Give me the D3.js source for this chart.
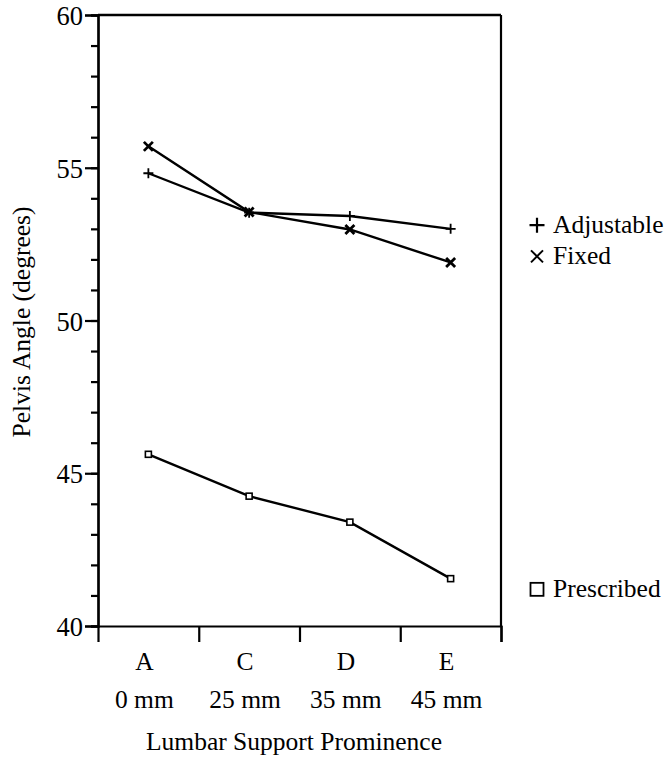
<!DOCTYPE html>
<html>
<head>
<meta charset="utf-8">
<script src="https://cdn.jsdelivr.net/npm/d3@7"></script>
<style>
  body { margin: 0; background: #fff; }
</style>
</head>
<body>
<div class="chart"></div>
<script>
const categories = ["A", "C", "D", "E"]
const distances = ["0 mm", "25 mm", "35 mm", "45 mm"]
const adjustable = [54.82, 53.53, 53.42, 53.0]
const fixed = [55.7, 53.55, 52.98, 51.9]
const prescribed = [45.62, 44.25, 43.4, 41.55]
const y_ticks = [40, 45, 50, 55, 60]

const width = 667
const height = 760
const plot_left = 98, plot_right = 501, plot_top = 15, plot_bottom = 626
const serif = "Liberation Serif"
const font_size = 25.5
const ink = "#000"

const svg = d3.select(".chart").append("svg").attr("width", width).attr("height", height)
    .attr("font-family", serif)

const x_scale = d3.scaleBand().domain(categories).range([plot_left, plot_right])
const x_edges = d3.scaleLinear().domain([0, 4]).range([plot_left, plot_right])
const y_scale = d3.scaleLinear().domain([40, 60]).range([plot_bottom, plot_top])

// minor y ticks
svg.append("g").attr("transform", 'translate(' + plot_left + ',0)')
    .call(d3.axisLeft(y_scale).tickValues(d3.range(40, 61, 1)).tickSize(7).tickFormat(""))
// major y ticks with labels
const y_axis = svg.append("g").attr("transform", 'translate(' + plot_left + ',0)')
    .call(d3.axisLeft(y_scale).tickValues(y_ticks).tickSize(13).tickPadding(2).tickFormat(d3.format("d")))
y_axis.selectAll("text").attr("font-family", serif).attr("font-size", 26.5)
    .attr("dy", "0.36em").attr("fill", ink)

// bottom axis, ticks at category boundaries
svg.append("g").attr("transform", 'translate(0,' + plot_bottom + ')')
    .call(d3.axisBottom(x_edges).tickValues([1, 2, 3, 4]).tickSize(16).tickFormat(""))

svg.selectAll("g").attr("font-family", serif)
svg.selectAll(".domain, .tick line").attr("stroke", ink).attr("stroke-width", 2.2)

// box: top and right sides
svg.append("line").attr("x1", plot_left).attr("x2", plot_right).attr("y1", plot_top).attr("y2", plot_top)
    .attr("stroke", ink).attr("stroke-width", 2.5)
svg.append("line").attr("x1", plot_right).attr("x2", plot_right).attr("y1", plot_top).attr("y2", plot_bottom)
    .attr("stroke", ink).attr("stroke-width", 2.2)

// category labels
const cx = d => x_scale(d) + x_scale.bandwidth() / 2 - 4
svg.selectAll(".cat").data(categories).join("text").attr("class", "cat")
    .attr("x", cx).attr("y", 670).attr("text-anchor", "middle").attr("font-size", font_size)
    .attr("fill", ink).text(d => d)
svg.selectAll(".dist").data(categories).join("text").attr("class", "dist")
    .attr("x", cx).attr("y", 708).attr("text-anchor", "middle").attr("font-size", font_size)
    .attr("fill", ink).text((d, i) => distances[i])

// axis titles
svg.append("text").attr("x", 294).attr("y", 750).attr("text-anchor", "middle")
    .attr("font-size", font_size).attr("fill", ink).text("Lumbar Support Prominence")
svg.append("text").attr("transform", 'translate(30,322) rotate(-90)')
    .attr("text-anchor", "middle").attr("font-size", font_size).attr("fill", ink).text("Pelvis Angle (degrees)")

// lines
const px = i => x_scale(categories[i]) + x_scale.bandwidth() / 2
const line = d3.line().x((d, i) => px(i)).y(d => y_scale(d))
const series = [adjustable, fixed, prescribed]
svg.selectAll(".series").data(series).join("path").attr("class", "series")
    .attr("d", line).attr("fill", "none").attr("stroke", ink).attr("stroke-width", 2.4)

const plus = (g, x, y, r, w) => g.append("path")
    .attr("d", 'M' + (x - r) + ',' + y + 'H' + (x + r) + 'M' + x + ',' + (y - r) + 'V' + (y + r))
    .attr("stroke", ink).attr("stroke-width", w).attr("fill", "none")
const cross = (g, x, y, r, w) => g.append("path")
    .attr("d", 'M' + (x - r) + ',' + (y - r) + 'L' + (x + r) + ',' + (y + r) + 'M' + (x - r) + ',' + (y + r) + 'L' + (x + r) + ',' + (y - r))
    .attr("stroke", ink).attr("stroke-width", w).attr("fill", "none")
const square = (g, x, y, r, w) => g.append("rect")
    .attr("x", x - r).attr("y", y - r).attr("width", 2 * r).attr("height", 2 * r)
    .attr("stroke", ink).attr("stroke-width", w).attr("fill", "#fff")

const marks = svg.append("g")
adjustable.forEach((v, i) => plus(marks, px(i), y_scale(v), 5, 1.8))
fixed.forEach((v, i) => cross(marks, px(i), y_scale(v), 4.5, 2.8))
prescribed.forEach((v, i) => square(marks, px(i), y_scale(v), 3, 1.6))

// legend
const legend = svg.append("g")
plus(legend, 537, y_scale(53.12), 7.5, 2.2)
legend.append("text").attr("x", 553).attr("y", y_scale(53.12) + 8).attr("font-size", font_size).attr("fill", ink).text("Adjustable")
cross(legend, 537, y_scale(52.1), 6, 2)
legend.append("text").attr("x", 553).attr("y", y_scale(52.1) + 8).attr("font-size", font_size).attr("fill", ink).text("Fixed")
square(legend, 537, y_scale(41.2), 6.5, 1.8)
legend.append("text").attr("x", 553).attr("y", y_scale(41.2) + 8).attr("font-size", font_size).attr("fill", ink).text("Prescribed")
</script>
</body>
</html>
